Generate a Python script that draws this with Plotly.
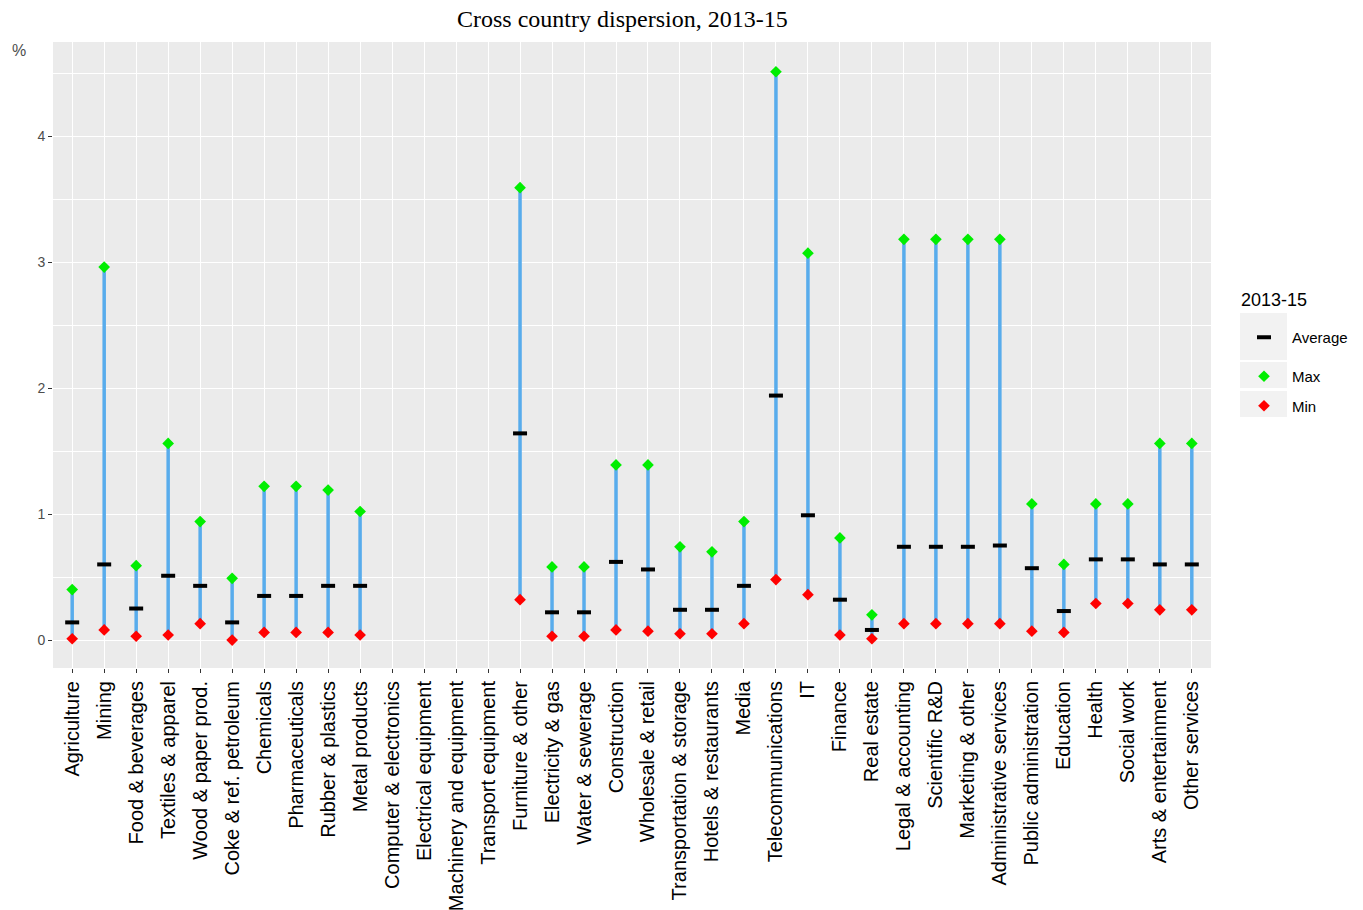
import plotly.graph_objects as go

# Industries on the x axis
industries = [
    "Agriculture", "Mining", "Food & beverages", "Textiles & apparel",
    "Wood & paper prod.", "Coke & ref. petroleum", "Chemicals", "Pharmaceuticals",
    "Rubber & plastics", "Metal products", "Computer & electronics",
    "Electrical equipment", "Machinery and equipment", "Transport equipment",
    "Furniture & other", "Electricity & gas", "Water & sewerage", "Construction",
    "Wholesale & retail", "Transportation & storage", "Hotels & restaurants",
    "Media", "Telecommunications", "IT", "Finance", "Real estate",
    "Legal & accounting", "Scientific R&D", "Marketing & other",
    "Administrative services", "Public administration", "Education", "Health",
    "Social work", "Arts & entertainment", "Other services",
]

# Cross-country statistics, % (None = no data)
max_vals = [
    0.40, 2.96, 0.59, 1.56, 0.94, 0.49, 1.22, 1.22, 1.19, 1.02,
    None, None, None, None,
    3.59, 0.58, 0.58, 1.39, 1.39, 0.74, 0.70, 0.94, 4.51, 3.07,
    0.81, 0.20, 3.18, 3.18, 3.18, 3.18, 1.08, 0.60, 1.08, 1.08, 1.56, 1.56,
]
avg_vals = [
    0.14, 0.60, 0.25, 0.51, 0.43, 0.14, 0.35, 0.35, 0.43, 0.43,
    None, None, None, None,
    1.64, 0.22, 0.22, 0.62, 0.56, 0.24, 0.24, 0.43, 1.94, 0.99,
    0.32, 0.08, 0.74, 0.74, 0.74, 0.75, 0.57, 0.23, 0.64, 0.64, 0.60, 0.60,
]
min_vals = [
    0.01, 0.08, 0.03, 0.04, 0.13, 0.00, 0.06, 0.06, 0.06, 0.04,
    None, None, None, None,
    0.32, 0.03, 0.03, 0.08, 0.07, 0.05, 0.05, 0.13, 0.48, 0.36,
    0.04, 0.01, 0.13, 0.13, 0.13, 0.13, 0.07, 0.06, 0.29, 0.29, 0.24, 0.24,
]

y_ticks = [0, 1, 2, 3, 4]

# Range segments from min to max, separated by gaps
seg_x, seg_y = [], []
for name, lo, hi in zip(industries, min_vals, max_vals):
    if lo is None or hi is None:
        continue
    seg_x += [name, name, None]
    seg_y += [lo, hi, None]

fig = go.Figure()

fig.add_trace(go.Scatter(
    x=seg_x, y=seg_y, mode="lines",
    line=dict(color="#58ACEC", width=3.5),
    showlegend=False, hoverinfo="skip",
))
fig.add_trace(go.Scatter(
    x=industries, y=avg_vals, mode="markers", name="Average",
    legend="legend",
    marker=dict(symbol="line-ew", size=10, line=dict(color="black", width=4)),
))
fig.add_trace(go.Scatter(
    x=industries, y=max_vals, mode="markers", name="Max",
    legend="legend2", legendgroup="max",
    marker=dict(symbol="diamond", size=9, color="#00EE00", line=dict(width=0)),
))
fig.add_trace(go.Scatter(
    x=industries, y=min_vals, mode="markers", name="Min",
    legend="legend2", legendgroup="min",
    marker=dict(symbol="diamond", size=9, color="#FF0000", line=dict(width=0)),
))

L, R, T, B = 53, 152, 42, 242
W, H = 1363, 910
pw, ph = W - L - R, H - T - B


def px_x(p):
    return (p - L) / pw


def px_y(p):
    return (H - B - p) / ph


# Grey key backgrounds behind the legend symbols
key_rows = [(313, 360), (362, 388), (391, 417)]
shapes = []
for top, bot in key_rows:
    shapes.append(dict(
        type="rect", xref="paper", yref="paper",
        x0=px_x(1240), x1=px_x(1287), y0=px_y(bot), y1=px_y(top),
        fillcolor="#F2F2F2", line=dict(width=0), layer="below",
    ))

legend_common = dict(
    font=dict(size=15, color="black"),
    xanchor="left", yanchor="top",
    bgcolor="rgba(0,0,0,0)",
    itemwidth=46,
    itemclick=False, itemdoubleclick=False,
)

fig.update_layout(
    width=W, height=H,
    margin=dict(l=L, r=R, t=T, b=B, autoexpand=False),
    paper_bgcolor="white",
    plot_bgcolor="#EBEBEB",
    font=dict(family="Liberation Sans, Arial, sans-serif", color="#4D4D4D"),
    shapes=shapes,
    showlegend=True,
    legend=dict(x=px_x(1236), y=px_y(321), **legend_common),
    legend2=dict(x=px_x(1236), y=px_y(360), tracegroupgap=7, **legend_common),
    annotations=[
        dict(text="Cross country dispersion, 2013-15", xref="paper", yref="paper",
             x=px_x(622.5), y=px_y(19), xanchor="center", yanchor="middle",
             showarrow=False,
             font=dict(family="Liberation Serif, Times New Roman, serif",
                       size=24, color="black")),
        dict(text="%", xref="paper", yref="paper",
             x=px_x(19), y=px_y(50), xanchor="center", yanchor="middle",
             showarrow=False, font=dict(size=16, color="#4D4D4D")),
        dict(text="2013-15", xref="paper", yref="paper",
             x=px_x(1239), y=px_y(300), xanchor="left", yanchor="middle",
             showarrow=False, font=dict(size=18, color="black")),
    ],
)

fig.update_xaxes(
    type="category", categoryorder="array", categoryarray=industries,
    range=[-0.6, len(industries) - 0.4],
    showgrid=True, gridcolor="white", gridwidth=1.3,
    ticks="outside", ticklen=4, tickcolor="#333333", tickwidth=1,
    tickangle=-90, tickfont=dict(size=20, color="black"),
    showline=False, zeroline=False, automargin=False,
)
fig.update_yaxes(
    range=[-0.222, 4.746],
    tickvals=y_ticks, ticktext=[str(v) for v in y_ticks],
    showgrid=True, gridcolor="white", gridwidth=1.3,
    minor=dict(dtick=0.5, tick0=0, showgrid=True, gridcolor="white", gridwidth=0.6),
    ticks="outside", ticklen=4, tickcolor="#333333", tickwidth=1,
    tickfont=dict(size=14, color="#4D4D4D"),
    showline=False, zeroline=False, automargin=False,
)

fig.write_html("out.html")
